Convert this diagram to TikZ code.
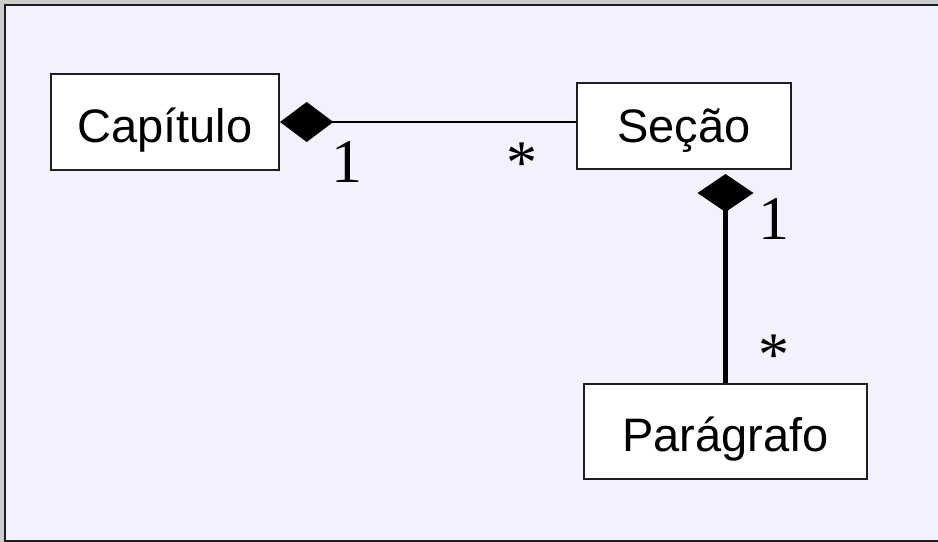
\documentclass[tikz,border=0pt]{standalone}
\usepackage{fontspec}
\setmainfont{Liberation Serif}
\newfontfamily\boxfont{Liberation Sans}
\usetikzlibrary{arrows.meta}
\definecolor{lav}{RGB}{242,242,254}
\definecolor{outerg}{RGB}{205,205,205}
\definecolor{edge}{RGB}{30,30,30}
\tikzset{
  classbox/.style={draw=edge, line width=1.5pt, fill=white, inner sep=0pt,
    text height=30pt, text depth=0pt,
    font=\boxfont\fontsize{35.25}{40}\selectfont},
  mult/.style={inner sep=0pt, anchor=base, font=\fontsize{46.5}{50}\selectfont},
}
\begin{document}
\begin{tikzpicture}[x=0.75pt,y=-0.75pt]
\useasboundingbox (0,0) rectangle (938,542);
\fill[outerg] (0,0) rectangle (938,542);
\draw[fill=lav, draw=edge, line width=1.6pt] (5,5) rectangle (948,541);

\node[classbox, minimum width=171pt, minimum height=72pt] (cap) at (165,122) {Capítulo};
\node[classbox, text height=24pt, minimum width=160.5pt, minimum height=64.5pt] (sec) at (684,126) {Seção};
\node[classbox, minimum width=212.25pt, minimum height=71.25pt] (par) at (725.5,431.5) {Parágrafo};

\draw[line width=1.1pt, {Diamond[length=40pt,width=30pt]}-] (cap.east) -- (sec.west |- cap.east);
\draw[line width=3.75pt, shorten <=3pt, {Diamond[length=28.5pt,width=42pt]}-] (par.north |- sec.south) -- (par.north);

\node[mult] (m1) at (347,182) {1};
\node[mult] (m2) at (522,183) {*};
\node[mult] (m3) at (774,239) {1};
\node[mult] (m4) at (774,375) {*};
\end{tikzpicture}
\end{document}
